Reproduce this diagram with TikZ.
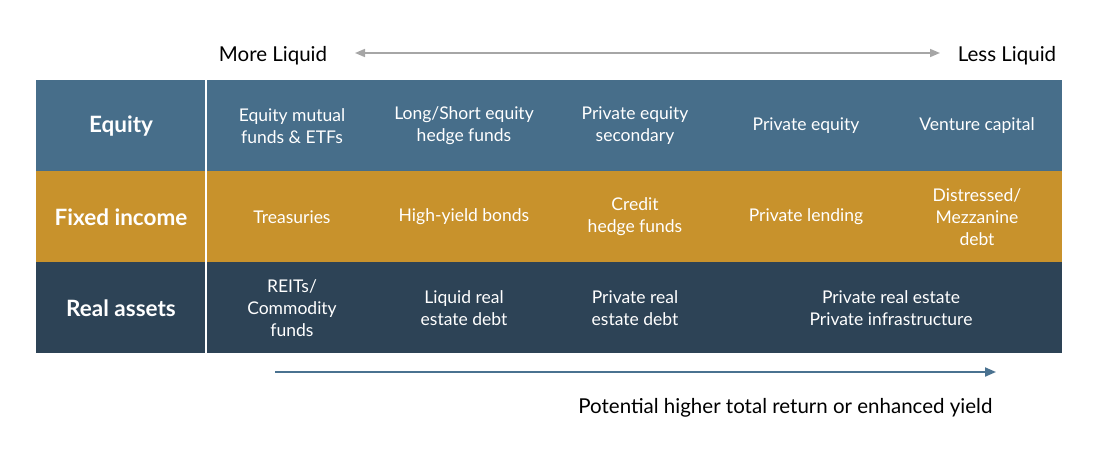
\documentclass[tikz,border=0pt]{standalone}
\usepackage{fontspec}
\setmainfont{Lato}
\usetikzlibrary{arrows.meta}
\definecolor{eqblue}{HTML}{476E8A}
\definecolor{figold}{HTML}{C8922C}
\definecolor{radark}{HTML}{2D4356}
\definecolor{arrgray}{HTML}{A6A6A6}
\definecolor{arrblue}{HTML}{4A7290}
\tikzset{
  cell/.style={text=white,align=center,font=\fontsize{17.5}{22}\selectfont},
  head/.style={text=white,font=\fontsize{22.5}{26}\selectfont\bfseries},
  side/.style={font=\fontsize{20.5}{24}\selectfont,anchor=base}
}
\begin{document}
\begin{tikzpicture}[x=1pt,y=-1pt]
    \useasboundingbox (0,0) rectangle (1100,450);
    %% rows
    \fill[eqblue] (36,80) rectangle (1062,171);
    \fill[figold] (36,171) rectangle (1062,262);
    \fill[radark] (36,262) rectangle (1062,353);
    \draw[white,line width=2pt] (206,80) -- (206,353);
    %% headers
    \node[head] (eq) at (121,126) {Equity};
    \node[head] (fi) at (121,217) {Fixed income};
    \node[head] (ra) at (121,308) {Real assets};
    %% equity
    \node[cell] (eq1) at (292,126) {Equity mutual\\funds \& ETFs};
    \node[cell] (eq2) at (464,126) {Long/Short equity\\hedge funds};
    \node[cell] (eq3) at (635,126) {Private equity\\secondary};
    \node[cell] (eq4) at (806,126) {Private equity};
    \node[cell] (eq5) at (977,126) {Venture capital};
    %% fixed income
    \node[cell] (fi1) at (292,217) {Treasuries};
    \node[cell] (fi2) at (464,217) {High-yield bonds};
    \node[cell] (fi3) at (635,217) {Credit\\hedge funds};
    \node[cell] (fi4) at (806,217) {Private lending};
    \node[cell] (fi5) at (977,217) {Distressed/\\Mezzanine\\debt};
    %% real assets
    \node[cell] (ra1) at (292,308) {REITs/\\Commodity\\funds};
    \node[cell] (ra2) at (464,308) {Liquid real\\estate debt};
    \node[cell] (ra3) at (635,308) {Private real\\estate debt};
    \node[cell] (ra4) at (891,308) {Private real estate\\Private infrastructure};
    %% liquidity
    \node[side] (more) at (273,61) {More Liquid};
    \node[side] (less) at (1007,61) {Less Liquid};
    \coordinate (ml) at (355,53);
    \coordinate (ll) at (940,53);
    \draw[arrgray,line width=1.5pt,{Triangle[length=10pt,width=8pt]}-{Triangle[length=10pt,width=8pt]}] (ml) -- (ll);
    %% return
    \coordinate (r0) at (275,372);
    \coordinate (r1) at (996,372);
    \draw[arrblue,line width=2pt,-{Triangle[length=11pt,width=9pt]}] (r0) -- (r1);
    \node[side,anchor=base east] (ret) at (996,413) {Potential higher total return or enhanced yield};
\end{tikzpicture}
\end{document}
